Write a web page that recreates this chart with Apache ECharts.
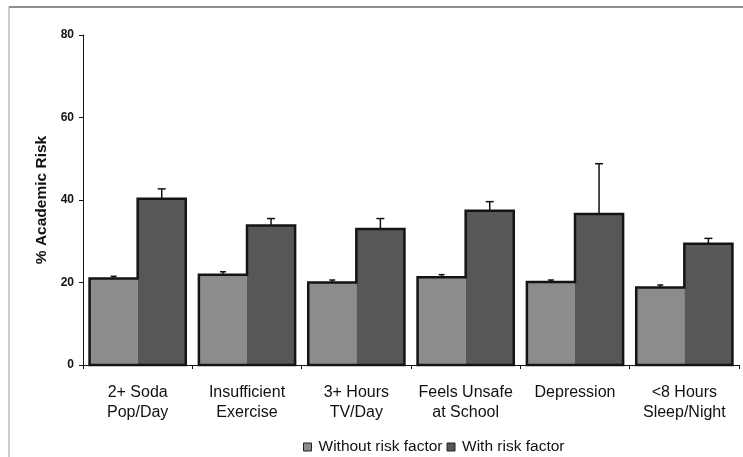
<!DOCTYPE html>
<html>
<head>
<meta charset="utf-8">
<style>
  html, body { margin: 0; padding: 0; background: #fff; }
  #chart { width: 743px; height: 457px; }
</style>
<script src="https://cdn.jsdelivr.net/npm/echarts@6/dist/echarts.min.js"></script>
</head>
<body>
<div id="chart"></div>
<script>
// Risk factor categories (two-line axis labels)
const categories = [
  '2+ Soda\nPop/Day',
  'Insufficient\nExercise',
  '3+ Hours\nTV/Day',
  'Feels Unsafe\nat School',
  'Depression',
  '<8 Hours\nSleep/Night'
];

// % academic risk by group
const withoutRisk = [21.0, 21.9, 20.0, 21.3, 20.1, 18.8];
const withRisk = [40.3, 33.8, 33.0, 37.4, 36.6, 29.4];

// Upper ends of the error bars
const withoutRiskUpper = [21.5, 22.6, 20.6, 21.9, 20.6, 19.4];
const withRiskUpper = [42.7, 35.5, 35.5, 39.6, 48.8, 30.7];

const yTicks = { min: 0, max: 80, interval: 20 };

const barCategoryGap = 0.12;
const FONT = 'Liberation Sans, Arial, sans-serif';

// Half-band geometry shared by the outline and error-bar layers
function barWidth(api) {
  return api.size([1, 0])[0] * (1 - barCategoryGap) / 2;
}

function errorSeries(values, upper, side, capHalf) {
  return {
    type: 'custom',
    silent: true,
    z: 6,
    encode: { x: 0, y: [1, 2] },
    data: values.map((v, i) => [i, v, upper[i]]),
    renderItem(params, api) {
      const idx = api.value(0);
      const barW = barWidth(api);
      const lo = api.coord([idx, api.value(1)]);
      const hi = api.coord([idx, api.value(2)]);
      const x = lo[0] + side * barW / 2;
      const style = { stroke: '#111', lineWidth: 1.5 };
      return {
        type: 'group',
        children: [
          { type: 'line', shape: { x1: x, y1: lo[1], x2: x, y2: hi[1] }, style },
          { type: 'line', shape: { x1: x - capHalf, y1: hi[1], x2: x + capHalf, y2: hi[1] }, style }
        ]
      };
    }
  };
}

// Heavy outline around each pair of bars (no divider between the two)
const outlineSeries = {
  type: 'custom',
  silent: true,
  z: 5,
  encode: { x: 0, y: [1, 2] },
  data: withoutRisk.map((v, i) => [i, v, withRisk[i]]),
  renderItem(params, api) {
    const idx = api.value(0);
    const barW = barWidth(api);
    const base = api.coord([idx, 0]);
    const yL = api.coord([idx, api.value(1)])[1];
    const yD = api.coord([idx, api.value(2)])[1];
    const xc = base[0];
    return {
      type: 'polygon',
      shape: {
        points: [
          [xc - barW, base[1]], [xc - barW, yL], [xc, yL], [xc, yD],
          [xc + barW, yD], [xc + barW, base[1]]
        ]
      },
      style: { fill: 'none', stroke: '#141414', lineWidth: 2.5, lineJoin: 'miter' }
    };
  }
};

const chart = echarts.init(document.getElementById('chart'), null, { renderer: 'canvas' });

chart.setOption({
  animation: false,
  backgroundColor: '#fff',
  textStyle: { fontFamily: FONT },
  graphic: [
    { type: 'line', shape: { x1: 9, y1: 7, x2: 743, y2: 7 }, style: { stroke: '#6a6a6a', lineWidth: 1.5 } },
    { type: 'line', shape: { x1: 9, y1: 7, x2: 9, y2: 457 }, style: { stroke: '#9a9a9a', lineWidth: 1 } }
  ],
  grid: { left: 83, right: 4, top: 35, bottom: 92, containLabel: false },
  legend: {
    left: 298,
    top: 434,
    itemWidth: 8,
    itemHeight: 8,
    itemGap: 4,
    icon: 'rect',
    itemStyle: { borderColor: '#222', borderWidth: 1 },
    textStyle: { fontSize: 15.5, color: '#111', fontFamily: FONT, padding: [0, 0, 0, 2] },
    data: ['Without risk factor', 'With risk factor']
  },
  xAxis: {
    type: 'category',
    data: categories,
    axisLine: { lineStyle: { color: '#111', width: 1 } },
    axisTick: { show: true, length: 4, lineStyle: { color: '#111' } },
    axisLabel: {
      color: '#111',
      fontSize: 16,
      lineHeight: 20,
      margin: 18,
      interval: 0
    }
  },
  yAxis: {
    type: 'value',
    min: yTicks.min,
    max: yTicks.max,
    interval: yTicks.interval,
    name: '% Academic Risk',
    nameLocation: 'middle',
    nameGap: 30,
    nameTextStyle: { fontSize: 15.5, fontWeight: 'bold', color: '#111' },
    splitLine: { show: false },
    axisLine: { show: true, lineStyle: { color: '#111', width: 1 } },
    axisTick: { show: true, length: 4, lineStyle: { color: '#111' } },
    axisLabel: { color: '#111', fontSize: 12, fontWeight: 'bold', margin: 9 }
  },
  series: [
    {
      name: 'Without risk factor',
      type: 'bar',
      data: withoutRisk,
      barGap: '0%',
      barCategoryGap: (barCategoryGap * 100) + '%',
      itemStyle: { color: '#8c8c8c' }
    },
    {
      name: 'With risk factor',
      type: 'bar',
      data: withRisk,
      barGap: '0%',
      barCategoryGap: (barCategoryGap * 100) + '%',
      itemStyle: { color: '#575757' }
    },
    outlineSeries,
    errorSeries(withoutRisk, withoutRiskUpper, -1, 3),
    errorSeries(withRisk, withRiskUpper, 1, 4)
  ]
});
</script>
</body>
</html>
